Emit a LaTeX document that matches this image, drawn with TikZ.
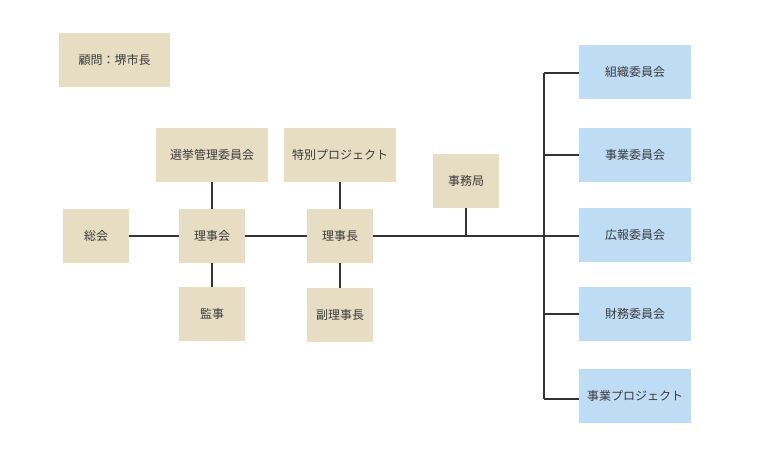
\documentclass[tikz,border=0pt]{standalone}
\usepackage{fontspec}
\newfontfamily\jpfont{Noto Sans CJK JP}
\usepackage{tikz}
\usetikzlibrary{calc,positioning}
\definecolor{beigebox}{HTML}{E6DDC3}
\definecolor{bluebox}{HTML}{BFDCF5}
\definecolor{linegray}{HTML}{333333}
\definecolor{textgray}{HTML}{3A3A3A}

\begin{document}
\begin{tikzpicture}[x=0.75pt,y=-0.75pt,
    org/.style={fill=beigebox, draw=none, text=textgray, font=\jpfont\fontsize{9}{11}\selectfont, inner sep=0pt, minimum height=40.5pt},
    smallorg/.style={org, minimum width=49pt},
    wideorg/.style={org, minimum width=83.5pt},
    comm/.style={wideorg, fill=bluebox},
    link/.style={draw=linegray, line width=1.5pt}]
      \useasboundingbox (0,0) rectangle (773,457);

      \node[wideorg] (advisor) at (114.5,60) {顧問：堺市長};
      \node[smallorg] (general) at (96,236) {総会};
      \node[wideorg] (election) at (212,154.5) {選挙管理委員会};
      \node[smallorg] (board) at (212,236) {理事会};
      \node[smallorg] (auditor) at (212,314) {監事};
      \node[wideorg] (special) at (340,154.5) {特別プロジェクト};
      \node[smallorg] (chair) at (340,236) {理事長};
      \node[smallorg] (vicechair) at (340,315) {副理事長};
      \node[smallorg] (office) at (466,180.5) {事務局};

      \node[comm] (c1) at (635,71.5) {組織委員会};
      \node[comm] (c2) at (635,154.5) {事業委員会};
      \node[comm] (c3) at (635,234.5) {広報委員会};
      \node[comm] (c4) at (635,313.5) {財務委員会};
      \node[comm] (c5) at (635,395.5) {事業プロジェクト};

      % left part
      \draw[link] (general) -- (board);
      \draw[link] (board) -- (chair);
      \draw[link] (election) -- (board);
      \draw[link] (board) -- (auditor);
      \draw[link] (special) -- (chair);
      \draw[link] (chair) -- (vicechair);

      % bus to the committees
      \coordinate (bus) at (544,236);
      \coordinate (bustop) at (544,73);
      \coordinate (busbot) at (544,399);
      \draw[link] (chair.east |- bus) -- (bus);
      \draw[link] (office) -- (office |- bus);
      \draw[link] (bustop) -- (busbot);
      \draw[link] (bustop) -- (bustop -| c1.west);
      \draw[link] (bus |- c2) -- (c2.west);
      \draw[link] (bus) -- (bus -| c3.west);
      \draw[link] (bus |- c4) -- (c4.west);
      \draw[link] (busbot) -- (busbot -| c5.west);
\end{tikzpicture}
\end{document}
